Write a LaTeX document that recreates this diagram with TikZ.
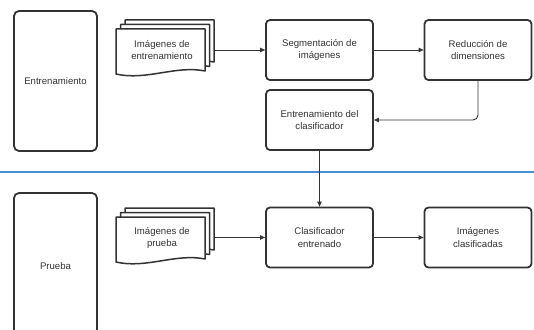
\documentclass[tikz,border=0pt]{standalone}
\usepackage{fontspec}
\setmainfont{Liberation Sans}
\usetikzlibrary{arrows.meta}
\definecolor{ink}{HTML}{333333}
\definecolor{sep}{HTML}{4A90D9}
\tikzset{
  lbl/.style={font=\fontsize{9.6}{12.5}\selectfont, text=ink, align=center},
  procbox/.style={lbl, draw=ink, line width=1.8pt, rounded corners=4pt, minimum width=107pt, minimum height=60pt, inner sep=2pt, fill=white},
  page/.style={draw=ink, line width=1.5pt, fill=white, line join=round},
  conn/.style={draw=ink, line width=0.9pt, -{Triangle[length=5pt,width=4.5pt]}},
  lane/.style={draw=ink, line width=1.8pt, rounded corners=5pt}
}
\newcommand{\docpage}[2]{% #1 = x left, #2 = y top
  \path[page] (#1,#2) -- (#1+89,#2) -- (#1+89,#2+42)
     .. controls (#1+60,#2+36) and (#1+30,#2+52) .. (#1,#2+45) -- cycle;}
\newcommand{\docstack}[2]{%
  \docpage{#1+9}{#2-9}\docpage{#1+4.5}{#2-4.5}\docpage{#1}{#2}}
\begin{document}
\begin{tikzpicture}[x=1pt,y=-1pt]
\useasboundingbox (0,0) rectangle (534,329);
% lanes
\draw[lane] (14,11) rectangle (97,151);
\node[lbl] (lanetrain) at (55.5,81) {Entrenamiento};
\draw[lane] (14,335) -- (14,193) -- (97,193) -- (97,335);
\node[lbl] (lanetest) at (55.5,266) {Prueba};
% separator
\draw[sep, line width=1.6pt] (0,172) -- (534,172);
% document stacks
\docstack{116}{29}
\node[lbl] (docA) at (162,50) {Imágenes de\\entrenamiento};
\coordinate (docAe) at (214,50);
\docstack{116}{217}
\node[lbl] (docB) at (162,238) {Imágenes de\\prueba};
\coordinate (docBe) at (214,237.5);
% process boxes
\node[procbox] (seg) at (319.5,50) {Segmentación de\\imágenes};
\node[procbox] (red) at (478,50) {Reducción de\\dimensiones};
\node[procbox] (ent) at (319.5,120) {Entrenamiento del\\clasificador};
\node[procbox] (cla) at (319.5,237.5) {Clasificador\\entrenado};
\node[procbox] (imc) at (478,237.5) {Imágenes\\clasificadas};
% connectors
\draw[conn] (docAe) -- (seg.west);
\draw[conn] (seg.east) -- (red.west);
\draw[conn, rounded corners=5pt] (red.south) |- (ent.east);
\draw[conn] (ent.south) -- (cla.north);
\draw[conn] (docBe) -- (cla.west);
\draw[conn] (cla.east) -- (imc.west);
\end{tikzpicture}
\end{document}
